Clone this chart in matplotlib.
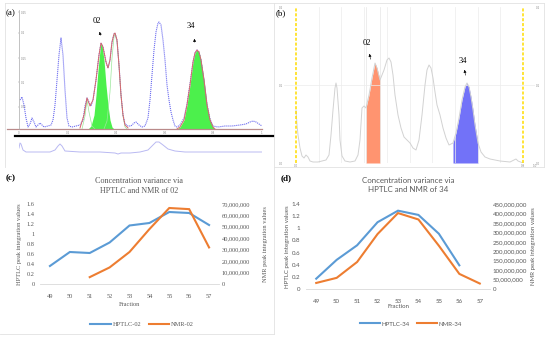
import numpy as np
import matplotlib
matplotlib.use("Agg")
import matplotlib.pyplot as plt
from matplotlib.lines import Line2D
from matplotlib.ticker import FuncFormatter

W, H = 550, 340

# ---- (a) densitogram: scan position vs signal ----
a_pos = [1, 3, 5, 7, 9, 11, 13, 15, 17, 19, 21, 23, 25, 29, 32, 34, 36, 38, 40, 42, 44, 46, 48, 50,
         53, 57, 61, 64, 66, 68, 70, 72, 74, 77, 80, 82, 84, 87, 89, 91, 93, 95, 96, 98, 100, 102,
         104, 106, 109, 112, 115, 117, 120, 123, 126, 129, 131, 133, 135, 137, 139, 140, 142, 144,
         146, 148, 150, 152, 154, 156, 158, 161, 165, 168, 171, 174, 176, 178, 180, 182, 185, 188,
         191, 194, 199, 206, 213, 221, 227, 231, 234, 237, 240, 243]
a_sig = [29, 32, 24, 11, 2, 5, 11, 7, 2, 4, 6, 4, 2, 3, 4, 9, 24, 49, 74, 91, 74, 39, 11, 3,
         2, 3, 4, 9, 23, 31, 27, 23, 29, 49, 74, 86, 82, 67, 61, 69, 87, 95, 96, 89, 64, 34,
         14, 5, 3, 3, 6, 7, 4, 2, 3, 11, 29, 54, 79, 97, 106, 107, 104, 89,
         69, 44, 29, 17, 9, 3, 2, 4, 11, 25, 45, 67, 76, 79, 77, 69, 49, 25,
         10, 3, 2, 3, 3, 4, 5, 7, 8, 7, 5, 3]

# fitted envelope around peak 02 and fitted peaks
fit_pos = [61, 65, 68, 71, 74, 77, 80, 82, 84, 87, 89, 91, 93, 95, 96, 98, 100, 102, 104, 106, 109]
fit_sig = [1, 14, 31, 23, 29, 49, 74, 86, 82, 67, 61, 69, 87, 95, 96, 89, 64, 34, 14, 4, 1]
p02_pos = [69, 72, 75, 77, 79, 81, 82, 83, 85, 87, 89, 91, 93, 95]
p02_sig = [0, 3, 14, 34, 59, 79, 86, 84, 69, 44, 24, 9, 2, 0]
p34_pos = [158, 161, 165, 168, 171, 174, 176, 178, 180, 182, 185, 188, 191, 194, 196]
p34_sig = [0, 2, 9, 24, 44, 67, 76, 79, 77, 69, 49, 24, 9, 2, 0]
c1_pos = [63, 66, 68, 70, 73, 76]
c1_sig = [0, 13, 29, 17, 3, 0]
c3_pos = [85, 88, 91, 93, 95, 96, 98, 100, 102, 104, 106, 108]
c3_sig = [0, 8, 37, 71, 92, 95, 87, 63, 33, 13, 2, 0]

# lower reference trace
low_pos = [0, 1, 2, 4, 7, 16, 31, 36, 39, 41, 43, 46, 61, 81, 96, 99, 102, 111, 121, 129, 133,
           137, 140, 144, 149, 156, 166, 211, 243]
low_sig = [4, 9, 8, 2, 0, 0, 0, 2, 6, 8, 6, 1, 0, 0, -1, -2, -1, -1, 0, 2, 6,
           10, 10, 7, 3, 1, 0, 0, 0]

# ---- (b) densitogram ----
b_pos = [0, 1, 2, 4, 6, 8, 10, 12, 14, 17, 22, 26, 30, 33, 35, 37, 39, 40, 41, 43, 44, 46, 49,
         54, 59, 62, 64, 66, 68, 70, 73, 76, 79, 81, 84, 88, 91, 93, 95, 97, 99, 102, 105, 108,
         111, 114, 117, 120, 123, 126, 129, 131, 133, 135, 137, 139, 141, 144, 147, 150, 153,
         157, 160, 163, 166, 169, 171, 173, 175, 177, 179, 182, 185, 189, 194, 204, 214, 218,
         220, 222, 227]
b_sig = [53, 38, 28, 15, 7, 5, 8, 6, 2, 1, 1, 2, 3, 8, 28, 53, 75, 80, 75, 48, 23, 7, 2,
         1, 2, 8, 23, 55, 57, 55, 68, 85, 100, 95, 83, 93, 103, 105, 101, 88, 68, 48, 35, 26,
         23, 20, 15, 13, 23, 48, 78, 93, 98, 95, 85, 71, 58, 48, 35, 25, 18,
         20, 30, 45, 63, 76, 80, 76, 66, 53, 38, 20, 11, 6, 4, 2, 1, 3,
         4, 2, 0]
band02 = (70, 84)
band34 = (157, 182)

# ---- (c) and (d) ----
fractions = [49, 50, 51, 52, 53, 54, 55, 56, 57]
hptlc_02 = [0.36, 0.64, 0.62, 0.83, 1.17, 1.22, 1.44, 1.42, 1.18]
nmr_02_frac = [51, 52, 53, 54, 55, 56, 57]
nmr_02 = [6.0e6, 14.5e6, 28e6, 48e6, 66.5e6, 65.5e6, 32e6]
hptlc_34_frac = [49, 50, 51, 52, 53, 54, 55, 56]
hptlc_34 = [0.17, 0.48, 0.72, 1.10, 1.29, 1.22, 0.91, 0.39]
nmr_34 = [32e6, 59e6, 143e6, 291e6, 402e6, 368e6, 229e6, 80e6, 29e6]

BLUE = "#5B9BD5"
ORANGE = "#ED7D31"
GREY = "#595959"

fig = plt.figure(figsize=(W / 100, H / 100), dpi=100)


def box(x0, y0, x1, y1):
    return fig.add_axes([x0 / W, 1 - y1 / H, (x1 - x0) / W, (y1 - y0) / H])


def fx(x):
    return x / W


def fy(y):
    return 1 - y / H


def fline(xs, ys, **kw):
    fig.lines.append(Line2D([fx(v) for v in xs], [fy(v) for v in ys],
                            transform=fig.transFigure, **kw))


# panel frames
frame = dict(color="#e2e2e2", lw=0.6)
fline([5, 5], [3, 167], **frame)
fline([5, 544], [3, 3], **frame)
fline([544, 544], [3, 167], **frame)
fline([274, 274], [3, 334], **frame)
fline([274, 544], [167, 167], **frame)
fline([0, 274], [334, 334], **frame)

serif = "Liberation Serif"

# ================= (a) =================
ax = box(19, 10, 262, 129)
ax.set_xlim(0, 243)
ax.set_ylim(0, 119)
ax.fill_between(p02_pos, p02_sig, color="#4cf04c", lw=0)
ax.fill_between(p34_pos, p34_sig, color="#4cf04c", lw=0)
ax.plot(c1_pos, c1_sig, color="#9be89b", lw=0.5)
ax.plot(c3_pos, c3_sig, color="#9be89b", lw=0.5)
ax.plot(a_pos, a_sig, color="#6c6cf0", lw=0.8, ls=(0, (1, 0.8)))
ax.plot(fit_pos, fit_sig, color="#d86a6a", lw=0.7)
ax.plot(p34_pos, p34_sig, color="#d86a6a", lw=0.7)
ax.axhline(0, xmin=-0.05, color="#b98a8a", lw=0.9, clip_on=False)
for s in ["top", "right", "bottom"]:
    ax.spines[s].set_visible(False)
ax.spines["left"].set_color("#aaaaaa")
ax.spines["left"].set_linewidth(0.5)
ax.set_yticks([22, 47, 71, 96, 117])
ax.set_yticklabels(["0.05", "0.1", "0.15", "0.2", "0.25"])
ax.set_xticks(np.linspace(0, 243, 6))
ax.set_xticklabels(["0", "0.2", "0.4", "0.6", "0.8", "1"])
ax.tick_params(labelsize=2, colors="#888888", length=1, width=0.3, pad=0.5)
ax.tick_params(axis="y", pad=-2.5)
for t in ax.get_yticklabels():
    t.set_horizontalalignment("left")
ax.patch.set_alpha(0)
ax.annotate("", xy=(80, 100), xytext=(82, 91),
            arrowprops=dict(arrowstyle="-|>", lw=0.4, color="k", mutation_scale=4))
ax.text(78, 108, "02", fontsize=6, family=serif, ha="center", va="center")
ax.annotate("", xy=(175, 93), xytext=(176, 84),
            arrowprops=dict(arrowstyle="-|>", lw=0.4, color="k", mutation_scale=4))
ax.text(172, 103, "34", fontsize=6, family=serif, ha="center", va="center")

fline([15, 273], [136, 136], color="black", lw=1.6)

axl = box(19, 137, 262, 157)
axl.set_xlim(0, 243)
axl.set_ylim(-5, 15)
axl.plot(low_pos, low_sig, color="#b9b9f2", lw=0.7)
axl.axis("off")

fig.text(fx(11), fy(13), "(a)", fontsize=6.5, family=serif, ha="center", va="center")

# ================= (b) =================
bx = box(284, 7, 535, 163)
bx.set_xlim(-12, 239)
bx.set_ylim(0, 156)
for g in np.linspace(0, 227, 11)[1:-1]:
    bx.axvline(g, color="#ececec", lw=0.5)
for g in [band02[0], band02[1]]:
    bx.axvline(g, color="#e6e6e6", lw=0.5)
bx.axhline(78, color="#ececec", lw=0.5)
bpos = np.array(b_pos)
bsig = np.array(b_sig)
m02 = (bpos >= band02[0]) & (bpos <= band02[1])
m34 = (bpos >= band34[0]) & (bpos <= band34[1])
bx.fill_between(bpos[m02], bsig[m02], color="#ff9470", lw=0)
bx.fill_between(bpos[m34], bsig[m34], color="#7272f8", lw=0)
bx.plot(bpos, bsig, color="#d2d2d2", lw=0.7)
bx.axvline(0, color="#ffdd00", lw=1.1, ls=(0, (2, 1.2)))
bx.axvline(227, color="#ffdd00", lw=1.1, ls=(0, (2, 1.2)))
for s in bx.spines.values():
    s.set_visible(False)
bx.set_yticks([0, 78, 156])
bx.set_yticklabels(["0.0", "0.1", "0.2"])
bx.set_xticks([0, 227, 239])
bx.set_xticklabels(["0.0", "0.9", "1.0"])
bx.tick_params(labelsize=2, colors="#888888", length=0, pad=0.5,
               right=True, labelright=True)
bx.annotate("", xy=(73, 112), xytext=(75, 101),
            arrowprops=dict(arrowstyle="-|>", lw=0.4, color="k", mutation_scale=4))
bx.text(71, 120, "02", fontsize=6, family=serif, ha="center", va="center")
bx.annotate("", xy=(168, 96), xytext=(170, 85),
            arrowprops=dict(arrowstyle="-|>", lw=0.4, color="k", mutation_scale=4))
bx.text(167, 102, "34", fontsize=6, family=serif, ha="center", va="center")
fig.text(fx(281), fy(13), "(b)", fontsize=6.5, family=serif, ha="center", va="center")


# ================= (c) and (d) =================
def excel_panel(pos, fam, size, ylim_l, yticks_l, ylim_r, yticks_r, x_h, y_h, x_n, y_n,
                lab_h, lab_n, title, title_xy, letter_xy, letter, xlab_y, yl_x, yr_x,
                leg_xy):
    c = box(*pos)
    c.set_xlim(48.5, 57.5)
    c.set_ylim(*ylim_l)
    c2 = c.twinx()
    c2.set_ylim(*ylim_r)
    l1, = c.plot(x_h, y_h, color=BLUE, lw=1.5, solid_joinstyle="miter")
    l2, = c2.plot(x_n, y_n, color=ORANGE, lw=1.5, solid_joinstyle="miter")
    for a in (c, c2):
        for s in a.spines.values():
            s.set_visible(False)
        a.patch.set_alpha(0)
    c.spines["bottom"].set_visible(True)
    c.spines["bottom"].set_color("#d9d9d9")
    c.spines["bottom"].set_linewidth(0.6)
    c.set_xticks(fractions)
    c.set_yticks(yticks_l)
    c.yaxis.set_major_formatter(FuncFormatter(lambda v, p: f"{v:g}"))
    c2.set_yticks(yticks_r)
    c2.yaxis.set_major_formatter(FuncFormatter(lambda v, p: f"{int(round(v)):,}"))
    c.tick_params(axis="x", length=0, pad=7, labelsize=size, labelcolor=GREY)
    c.tick_params(axis="y", length=0, pad=4, labelsize=size, labelcolor=GREY)
    c2.tick_params(axis="y", length=0, pad=2, labelsize=size, labelcolor=GREY)
    for t in c.get_xticklabels() + c.get_yticklabels() + c2.get_yticklabels():
        t.set_family(fam)
    fig.text(fx(title_xy[0]), fy(title_xy[1]), title, fontsize=size + 1.3, family=fam,
             color=GREY, ha="center", va="center", linespacing=1.25)
    fig.text(fx(letter_xy[0]), fy(letter_xy[1]), letter, fontsize=6.5, family=serif,
             weight="bold", ha="center", va="center")
    fig.text(fx((pos[0] + pos[2]) / 2), fy(xlab_y), "Fraction", fontsize=size, family=fam,
             color=GREY, ha="center", va="center")
    fig.text(fx(yl_x), fy((pos[1] + pos[3]) / 2), "HPTLC peak integration values",
             fontsize=size, family=fam, color=GREY, rotation=90, ha="center", va="center")
    fig.text(fx(yr_x), fy((pos[1] + pos[3]) / 2), "NMR peak integration values",
             fontsize=size, family=fam, color=GREY, rotation=90, ha="center", va="center")
    leg = c.legend([l1, l2], [lab_h, lab_n], loc="center",
                   bbox_to_anchor=(fx(leg_xy[0]), fy(leg_xy[1])),
                   bbox_transform=fig.transFigure, ncol=2, frameon=False,
                   prop=dict(family=fam, size=size), handlelength=3.2,
                   handletextpad=0.3, columnspacing=1.2)
    for t in leg.get_texts():
        t.set_color(GREY)


excel_panel((40, 204, 219, 284), serif, 4.6, (0, 1.6), np.arange(0, 1.61, 0.2),
            (0, 70e6), np.arange(0, 70e6 + 1, 10e6),
            fractions, hptlc_02, nmr_02_frac, nmr_02, "HPTLC-02", "NMR-02",
            "Concentration variance via\nHPTLC and NMR of 02", (139, 186), (11, 178), "(c)",
            305, 20, 265, (142, 324))

excel_panel((306, 204, 490, 289), "Lato", 4.4, (0, 1.4), np.arange(0, 1.41, 0.2),
            (0, 450e6), np.arange(0, 450e6 + 1, 50e6),
            hptlc_34_frac, hptlc_34, fractions, nmr_34, "HPTLC-34", "NMR-34",
            "Concentration variance via\nHPTLC and NMR of 34", (408, 185), (286, 178), "(d)",
            307, 287, 533, (411, 324))

fig.savefig("out.png", dpi=100, facecolor="white")
